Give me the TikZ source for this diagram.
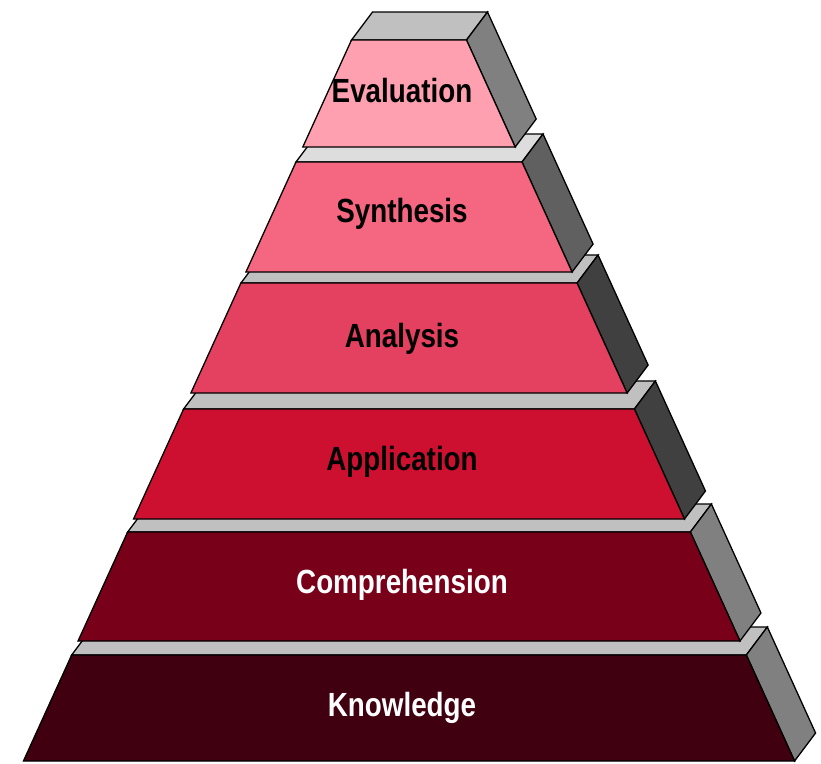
\documentclass[tikz,border=0pt]{standalone}
\usepackage{fontspec}
\newfontfamily\labfont[FakeStretch=0.83]{Liberation Sans}
\definecolor{cEval}{RGB}{255,160,176}
\definecolor{cSynth}{RGB}{245,102,128}
\definecolor{cAnal}{RGB}{228,64,96}
\definecolor{cAppl}{RGB}{205,16,48}
\definecolor{cComp}{RGB}{120,0,24}
\definecolor{cKnow}{RGB}{64,0,16}
\definecolor{gTop}{RGB}{192,192,192}
\definecolor{gTopL}{RGB}{221,221,221}
\definecolor{gSide}{RGB}{128,128,128}
\definecolor{gSideM}{RGB}{96,96,96}
\definecolor{gSideD}{RGB}{64,64,64}
\begin{document}
\begin{tikzpicture}[x=1pt,y=-1pt,
  face/.style={draw=black,line width=1.3pt,line join=miter},
  lab/.style={font=\labfont\bfseries\fontsize{33.5}{40}\selectfont,anchor=base,inner sep=0pt}]
\useasboundingbox (0,0) rectangle (821,763);
% #1 name, #2 top y, #3 bottom y, #4 front colour, #5 top colour, #6 side colour, #7 text, #8 text colour, #9 baseline
\newcommand\pyrblock[9]{%
  \pgfmathsetmacro\pyTL{351.5-0.455*(#2-40)}%
  \pgfmathsetmacro\pyTR{466.5+0.455*(#2-40)}%
  \pgfmathsetmacro\pyBL{351.5-0.455*(#3-40)}%
  \pgfmathsetmacro\pyBR{466.5+0.455*(#3-40)}%
  \filldraw[face,fill=#5] (\pyTL,#2) -- (\pyTR,#2) -- (\pyTR+21,#2-28) -- (\pyTL+21,#2-28) -- cycle;
  \filldraw[face,fill=#6] (\pyTR,#2) -- (\pyTR+21,#2-28) -- (\pyBR+21,#3-28) -- (\pyBR,#3) -- cycle;
  \filldraw[face,fill=#4] (\pyTL,#2) -- (\pyTR,#2) -- (\pyBR,#3) -- (\pyBL,#3) -- cycle;
  \node[lab,text=#8] (#1) at (402,#9) {#7};
}
\pyrblock{know}{655}{761}{cKnow}{gTop}{gSide}{Knowledge}{white}{716}
\pyrblock{comp}{532}{641}{cComp}{gTop}{gSide}{Comprehension}{white}{593}
\pyrblock{appl}{409}{519}{cAppl}{gTop}{gSideD}{Application}{black}{470}
\pyrblock{anal}{283}{393}{cAnal}{gTop}{gSideD}{Analysis}{black}{347}
\pyrblock{synth}{162}{272}{cSynth}{gTopL}{gSideM}{Synthesis}{black}{222}
\pyrblock{eval}{40}{147}{cEval}{gTop}{gSide}{Evaluation}{black}{102}
\end{tikzpicture}
\end{document}
